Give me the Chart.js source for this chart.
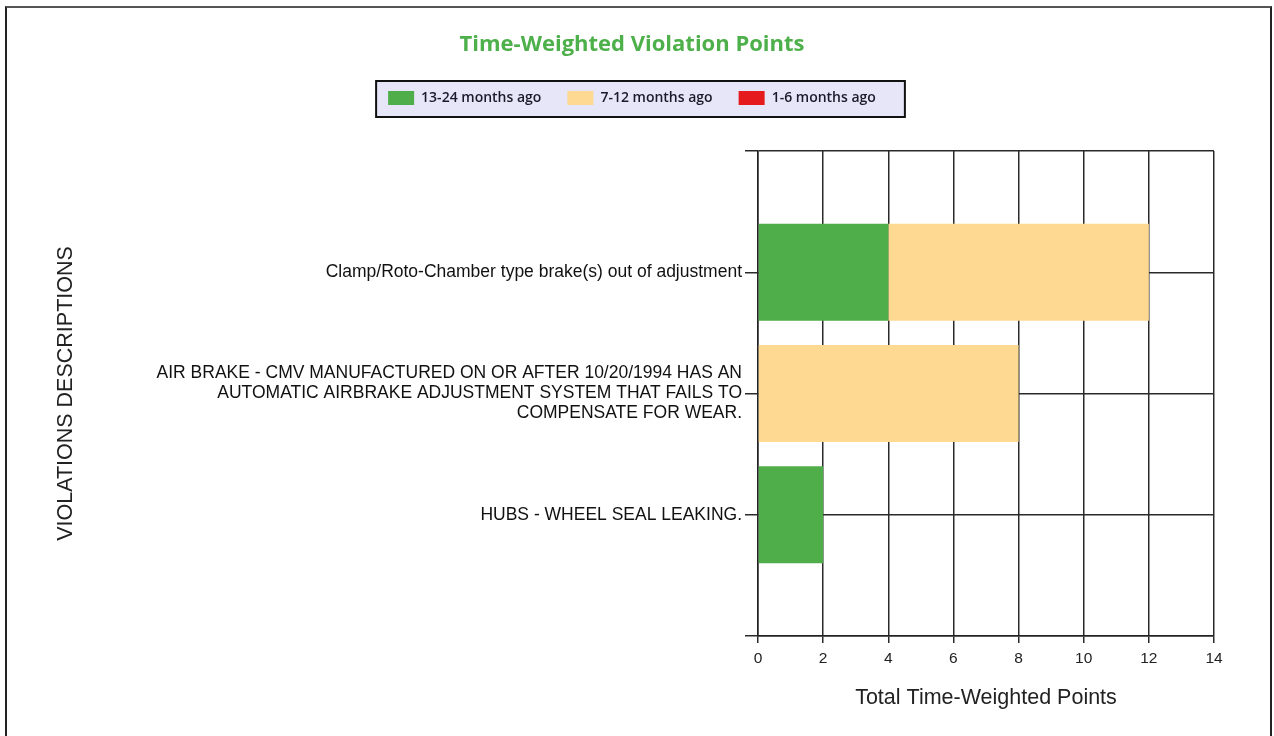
<!DOCTYPE html>
<html><head><meta charset="utf-8">
<script src="https://cdn.jsdelivr.net/npm/chart.js@4.4.0/dist/chart.umd.min.js"></script>
<style>
html,body{margin:0;padding:0;background:#fff;overflow:hidden;width:1274px;height:736px}
#frame{position:absolute;left:5px;top:6px;width:1263px;height:760px;border-top:2px solid #555;border-left:2px solid #222;border-right:2px solid #222;pointer-events:none}
canvas{position:absolute;left:0;top:0}
</style></head><body>
<canvas id="c" width="1274" height="736"></canvas>
<div id="frame"></div>
<script>
// ---- data ----
const categories = [
  '',
  'Clamp/Roto-Chamber type brake(s) out of adjustment',
  ['AIR BRAKE - CMV MANUFACTURED ON OR AFTER 10/20/1994 HAS AN',
   'AUTOMATIC AIRBRAKE ADJUSTMENT SYSTEM THAT FAILS TO',
   'COMPENSATE FOR WEAR.'],
  'HUBS - WHEEL SEAL LEAKING.',
  ''
];
const seriesNames = ['13-24 months ago', '7-12 months ago', '1-6 months ago'];
const points13to24 = [null, 4, 0, 2, null];
const points7to12  = [null, 8, 8, 0, null];
const points1to6   = [null, 0, 0, 0, null];
const xTicks = [0, 2, 4, 6, 8, 10, 12, 14];

const colors = ['#4FAE4A', '#FED991', '#E41A1C'];

const legendBox = {
  id: 'legendBox',
  beforeLayout(chart) {
    const lg = chart.legend;
    if (lg && !lg._patched) {
      const f = lg.fit.bind(lg);
      lg.fit = function () { f(); this.height += 36; };
      lg._patched = true;
    }
  },
  beforeDraw(chart) {
    const hb = chart.legend && chart.legend.legendHitBoxes;
    if (!hb || !hb.length) return;
    const ctx = chart.ctx;
    const first = hb[0], last = hb[hb.length - 1];
    const cy = first.top + first.height / 2;
    const l = first.left - 12, r = last.left + last.width + 29;
    ctx.save();
    ctx.fillStyle = '#E6E6F8';
    ctx.fillRect(l, cy - 17, r - l, 36);
    ctx.strokeStyle = '#111';
    ctx.lineWidth = 2;
    ctx.strokeRect(l, cy - 17, r - l, 36);
    ctx.restore();
  }
};

new Chart(document.getElementById('c'), {
  type: 'bar',
  data: {
    labels: categories,
    datasets: [
      { label: seriesNames[0], data: points13to24, backgroundColor: colors[0] },
      { label: seriesNames[1], data: points7to12, backgroundColor: colors[1] },
      { label: seriesNames[2], data: points1to6, backgroundColor: colors[2] }
    ]
  },
  options: {
    indexAxis: 'y',
    responsive: false,
    animation: false,
    layout: { padding: { left: 50, right: 60, top: 0, bottom: 0 } },
    datasets: { bar: { categoryPercentage: 0.8, barPercentage: 1.0, borderWidth: 0 } },
    plugins: {
      tooltip: { enabled: false },
      title: {
        display: true,
        text: 'Time-Weighted Violation Points',
        color: '#4DB04A',
        font: { family: 'Open Sans', size: 22, weight: 'bold' },
        padding: { top: 32, bottom: 6.6 }
      },
      legend: {
        display: true,
        labels: {
          boxWidth: 26, boxHeight: 14, padding: 26,
          color: '#1a1a2a',
          font: { family: 'Open Sans', size: 14, weight: '600' }
        }
      }
    },
    scales: {
      x: {
        stacked: true,
        min: 0, max: 14,
        afterBuildTicks: (ax) => { ax.ticks = xTicks.map(v => ({ value: v })); },
        afterFit: (ax) => { ax.height = 100; },
        grid: { color: '#2a2a2a', lineWidth: 1.5, tickLength: 7, drawTicks: true },
        border: { color: '#222', width: 1.5 },
        ticks: { color: '#222', padding: 6, font: { family: 'Liberation Sans', size: 15.5 } },
        title: {
          display: true, text: 'Total Time-Weighted Points', color: '#222',
          font: { family: 'Liberation Sans', size: 21.5 },
          padding: { top: 4, bottom: 25 }
        }
      },
      y: {
        stacked: true,
        offset: false,
        afterFit: (ax) => { ax.width = 708; },
        grid: { offset: false, color: '#2a2a2a', lineWidth: 1.5, tickLength: 13 },
        border: { color: '#222', width: 1.5 },
        ticks: {
          color: '#111', padding: 3, autoSkip: false,
          font: { family: 'Liberation Sans', size: 17.5, lineHeight: 1.143 }
        },
        title: {
          display: true, text: 'VIOLATIONS DESCRIPTIONS', color: '#222',
          font: { family: 'Liberation Sans', size: 21.5 },
          padding: { top: 3, bottom: 0 }
        }
      }
    }
  },
  plugins: [legendBox]
});
</script>
</body></html>
